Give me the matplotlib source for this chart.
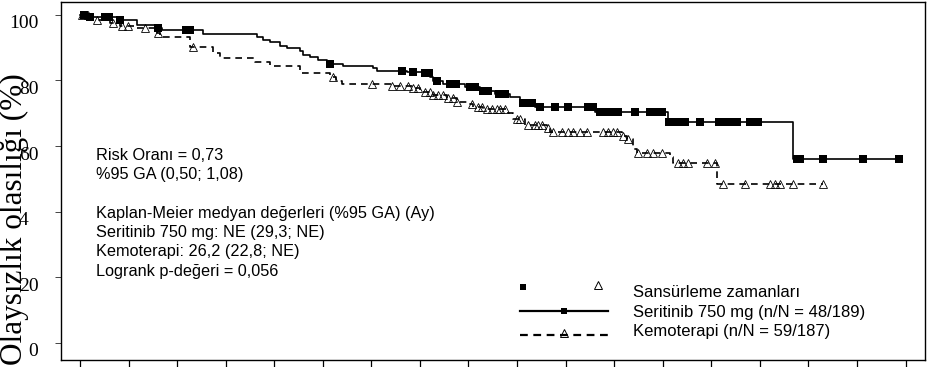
import numpy as np
import matplotlib
matplotlib.use("Agg")
import matplotlib.pyplot as plt
from matplotlib.lines import Line2D
from matplotlib.transforms import ScaledTranslation

# Kaplan-Meier step data (months, % event-free)
seri_times = [0, 0.41, 1.57, 2.35, 3.17, 3.38, 5.07, 7.29, 7.54, 7.83, 8.24, 8.53, 9.06, 9.18,
              9.47, 9.80, 10.17, 10.83, 12.07, 12.23, 13.47, 14.13, 14.42, 14.54, 14.95, 15.86,
              16.47, 17.09, 17.71, 18.12, 18.74, 21.21, 24.22, 29.37]
seri_surv = [100, 99.4, 98.5, 96.9, 96.0, 95.3, 94.1, 93.4, 92.4, 91.7, 90.6, 89.8, 89.0, 87.8,
             87.1, 86.3, 85.0, 84.5, 83.7, 83.0, 82.7, 82.2, 81.2, 79.8, 78.8, 77.9,
             76.8, 75.9, 75.0, 73.0, 71.8, 70.5, 67.4, 56.1]
seri_end = 33.77
seri_censor = [0.16, 0.41, 1.03, 1.19, 1.65, 3.21, 4.37, 4.53, 10.30, 13.26, 13.71, 14.21, 14.37,
               14.70, 15.24, 15.49, 16.06, 16.27, 16.60, 16.80, 17.26, 17.50, 18.25, 18.45, 18.62,
               18.95, 19.56, 20.10, 20.92, 21.13, 21.42, 21.66, 21.91, 22.16, 22.86, 23.48, 23.72,
               23.97, 24.26, 24.59, 24.92, 25.54, 26.32, 26.56, 26.77, 27.06, 27.59, 27.92, 29.53,
               29.65, 30.60, 32.25, 33.73]

kemo_times = [0, 0.41, 1.24, 1.65, 2.35, 3.17, 3.29, 4.53, 5.48, 5.77, 7.21, 7.83, 9.06, 10.30,
              10.54, 10.79, 12.85, 13.71, 14.00, 14.54, 15.12, 15.53, 15.94, 16.19, 16.60, 17.63,
              17.83, 18.33, 19.23, 19.36, 22.32, 22.53, 22.78, 22.94, 24.30, 24.42, 26.23]
kemo_surv = [100, 98.5, 97.5, 96.7, 96.1, 94.4, 93.3, 90.2, 88.4, 86.9, 85.6, 84.4, 82.4, 81.1,
             79.8, 78.8, 78.3, 77.6, 76.5, 75.6, 74.7, 73.5, 72.8, 72.0, 71.3, 70.1,
             68.1, 66.3, 65.5, 64.4, 63.1, 62.0, 59.1, 57.9, 56.5, 54.8, 48.4]
kemo_end = 30.60
kemo_censor = [0.08, 0.33, 0.70, 1.36, 1.73, 1.98, 2.68, 3.21, 4.65, 10.42, 12.03, 12.85, 13.18,
               13.51, 13.71, 13.92, 14.21, 14.42, 14.54, 14.74, 14.95, 15.16, 15.36, 15.53, 16.14,
               16.39, 16.56, 16.76, 16.97, 17.17, 17.30, 17.50, 18.00, 18.12, 18.45, 18.74, 18.86,
               19.03, 19.28, 19.48, 19.85, 20.10, 20.30, 20.59, 20.88, 21.54, 21.75, 21.95, 22.12,
               22.36, 22.57, 22.98, 23.35, 23.60, 23.97, 24.63, 24.83, 25.04, 25.82, 26.15, 26.48,
               27.39, 28.42, 28.62, 28.83, 29.36, 30.60]

x_ticks = list(range(0, 36, 2))
y_ticks = [0, 20, 40, 60, 80, 100]
y_ticklabels = ["0", "20", "4  ", "60", "80", "100"]

info_lines = ["Risk Oranı = 0,73", "%95 GA (0,50; 1,08)", "",
              "Kaplan-Meier medyan değerleri (%95 GA) (Ay)",
              "Seritinib 750 mg: NE (29,3; NE)",
              "Kemoterapi: 26,2 (22,8; NE)",
              "Logrank p-değeri = 0,056"]
legend_labels = ["Sansürleme zamanları", "Seritinib 750 mg (n/N = 48/189)",
                 "Kemoterapi (n/N = 59/187)"]


def censor_y(times, surv, cens):
    idx = np.searchsorted(times, cens, side="right") - 1
    return np.array(surv)[idx]


W, H = 927, 367
fig = plt.figure(figsize=(W / 100, H / 100), dpi=100)
ax = fig.add_axes([61 / W, 1 - 360 / H, 864 / W, 358.5 / H])

ax.step(seri_times + [seri_end], seri_surv + [seri_surv[-1]], where="post",
        color="black", lw=1.2)
ax.step(kemo_times + [kemo_end], kemo_surv + [kemo_surv[-1]], where="post",
        color="black", lw=1.2, linestyle=(0, (4, 3)))
ax.plot(seri_censor, censor_y(seri_times, seri_surv, seri_censor), "s",
        color="black", ms=5.5, mew=0)
ax.plot(kemo_censor, censor_y(kemo_times, kemo_surv, kemo_censor), "^",
        mfc="none", mec="black", ms=6, mew=0.6)

px_per_month = 24.28
ax.set_xlim(-19 / px_per_month, 845 / px_per_month)
ax.set_ylim(-5.3, 104.1)
ax.set_xticks(x_ticks)
ax.set_yticks(y_ticks)
ax.set_yticklabels(y_ticklabels, family="Liberation Serif", fontsize=14)
ax.tick_params(axis="x", length=10, width=0.9, labelbottom=False)
ax.tick_params(axis="y", length=4.3, width=0.7, pad=12, color="#444444")
off = ScaledTranslation(0, -0.07, fig.dpi_scale_trans)
for lab in ax.get_yticklabels():
    lab.set_transform(lab.get_transform() + off)
for s in ax.spines.values():
    s.set_linewidth(1.0)

fig.text(0.0, 1 - 73 / H, "Olaysızlık olasılığı (%)", rotation=90, ha="left", va="top",
         family="Liberation Serif", fontsize=22.5)

# annotation block
baselines = [160, 179, 198, 218, 237, 256, 276]
for txt, yb in zip(info_lines, baselines):
    if txt:
        fig.text(96 / W, 1 - yb / H, txt, family="Liberation Sans", fontsize=11.7,
                 va="baseline")

# legend drawn by hand
fig.add_artist(Line2D([523 / W], [1 - 287 / H], transform=fig.transFigure, marker="s",
                      color="black", ms=5, mew=0, ls="none"))
fig.add_artist(Line2D([598 / W], [1 - 285 / H], transform=fig.transFigure, marker="^",
                      mfc="none", mec="black", ms=6, mew=0.7, ls="none"))
fig.add_artist(Line2D([520 / W, 608 / W], [1 - 311 / H, 1 - 311 / H], transform=fig.transFigure,
                      color="black", lw=1.6))
fig.add_artist(Line2D([564 / W], [1 - 311 / H], transform=fig.transFigure, marker="s",
                      color="black", ms=5, mew=0, ls="none"))
fig.add_artist(Line2D([520 / W, 608 / W], [1 - 335 / H, 1 - 335 / H], transform=fig.transFigure,
                      color="black", lw=1.6, linestyle=(0, (3.5, 2.5))))
fig.add_artist(Line2D([564 / W], [1 - 333 / H], transform=fig.transFigure, marker="^",
                      mfc="none", mec="black", ms=6, mew=0.7, ls="none"))
for txt, yb in zip(legend_labels, [297, 317, 336]):
    fig.text(633 / W, 1 - yb / H, txt, family="Liberation Sans", fontsize=12, va="baseline")

fig.savefig("out.png", dpi=100)
